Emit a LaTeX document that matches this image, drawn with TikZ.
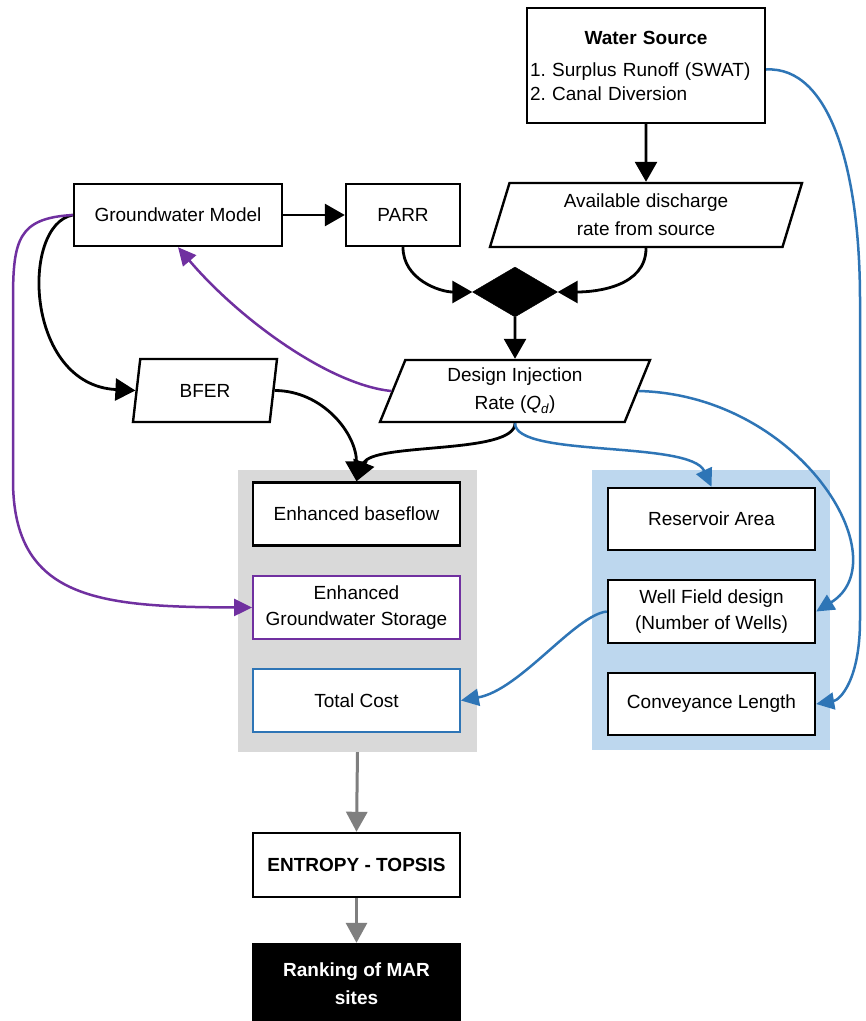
\documentclass[tikz,border=0pt]{standalone}
\usepackage{fontspec}
\setmainfont{Liberation Sans}
\usetikzlibrary{shapes.geometric,arrows.meta}
\definecolor{bluel}{HTML}{2E75B6}
\definecolor{purp}{HTML}{7030A0}
\definecolor{grayp}{HTML}{D9D9D9}
\definecolor{bluep}{HTML}{BDD7EE}
\definecolor{grayarr}{HTML}{7F7F7F}
\begin{document}
\frenchspacing
\begin{tikzpicture}[x=1pt,y=-1pt,
  every node/.style={font=\fontsize{19}{28}\selectfont, inner sep=2pt, align=center},
  box/.style={draw=black, line width=2.4pt, fill=white, rectangle, minimum width=207, minimum height=63},
  panel/.style={rectangle, draw=none},
  para/.style={draw=black, line width=2.4pt, fill=white, trapezium, trapezium stretches body},
  blk/.style={draw=black, line width=2.8pt, -{Triangle[length=20pt,width=22pt]}},
  blu/.style={draw=bluel, line width=2.5pt, -{Triangle[length=18pt,width=17pt]}},
  pur/.style={draw=purp, line width=2.5pt, -{Triangle[length=18pt,width=17pt]}},
  gra/.style={draw=grayarr, line width=3pt, -{Triangle[length=20pt,width=21pt]}}
]
\useasboundingbox (0,0) rectangle (866,1021);
\fill[white] (0,0) rectangle (866,1021);

% panels
\node[panel, fill=grayp, minimum width=239, minimum height=282] (grp) at (357.5,611) {};
\node[panel, fill=bluep, minimum width=238, minimum height=280] (blp) at (711,610) {};

% top
\node[box, minimum width=238, minimum height=115, text width=232, inner xsep=3pt, align=left,
  font=\fontsize{19}{24}\selectfont] (ws) at (646,65.5)
  {\makebox[232pt]{\bfseries Water Source}\\[8pt]1. Surplus Runoff (SWAT)\\2. Canal Diversion};
\node[para, trapezium left angle=67, trapezium right angle=113, minimum width=312, minimum height=64] (avail) at (646,215)
  {Available discharge\\rate from source};
\node[box, minimum width=208, minimum height=62] (gm) at (178,215) {Groundwater Model};
\node[box, minimum width=114, minimum height=62] (parr) at (403,215) {PARR};
\node[diamond, fill=black, draw=black, minimum width=85, minimum height=50, inner sep=0pt] (dia) at (515,292) {};
\node[para, trapezium left angle=63, trapezium right angle=117, minimum width=270, minimum height=62] (dir) at (515,391)
  {Design Injection\\Rate (\textit{Q\textsubscript{d}})};
\node[para, trapezium left angle=67, trapezium right angle=113, minimum width=144, minimum height=63] (bfer) at (205,390.5) {BFER};

% gray panel boxes
\node[box] (eb) at (356.5,514) {Enhanced baseflow};
\node[box, draw=purp, line width=1.8pt] (egs) at (356.5,607.5) {Enhanced\\[-2pt]Groundwater Storage};
\node[box, draw=bluel, line width=1.8pt] (tc) at (356.5,700.5) {Total Cost};

% blue panel boxes
\node[box, minimum height=62] (ra) at (711.5,519) {Reservoir Area};
\node[box] (wf) at (711.5,611.5) {Well Field design\\[-2pt](Number of Wells)};
\node[box, minimum height=62] (cl) at (711.5,704) {Conveyance Length};

% bottom
\node[box, minimum height=64, font=\fontsize{19}{28}\selectfont\bfseries] (ent) at (356.5,865) {ENTROPY - TOPSIS};
\node[box, fill=black, minimum height=80, text=white, font=\fontsize{19}{28}\selectfont\bfseries] (rank) at (356.5,984) {Ranking of MAR\\sites};

% connectors
\draw[blk] (ws.south) -- (avail.north);
\draw[blk] (gm.east) -- (parr.west);
\draw[blk] (parr.south) to[out=-90,in=180] (dia.west);
\draw[blk] (avail.south) to[out=-90,in=0] (dia.east);
\draw[blk] (dia.south) -- (dir.north);
\draw[blk] (gm.west) .. controls (20,225) and (25,385) .. (bfer.left side);
\draw[blk] (bfer.right side) to[out=0,in=90] (eb.north);
\draw[blk] (dir.south) .. controls (515,455) and (372,442) .. (eb.north);

\draw[pur] (gm.west) .. controls (18,218) and (13,240) .. (13,300) -- (13,480) .. controls (13,600) and (100,607) .. (egs.west);
\draw[pur] (dir.left side) .. controls (330,385) and (240,320) .. (gm.south);

\draw[blu] (dir.south) .. controls (515,458) and (690,440) .. (ra.north);
\draw[blu] (dir.right side) .. controls (800,395) and (900,560) .. (wf.east);
\draw[blu] ([yshift=-4pt]ws.east) .. controls (830,66) and (860,170) .. (860,300) -- (860,620) .. controls (860,680) and (840,700) .. (cl.east);
\draw[blu] (wf.west) .. controls (575,615) and (520,690) .. (tc.east);

\draw[gra] (grp.south) -- (ent.north);
\draw[gra] (ent.south) -- (rank.north);
\end{tikzpicture}
\end{document}
